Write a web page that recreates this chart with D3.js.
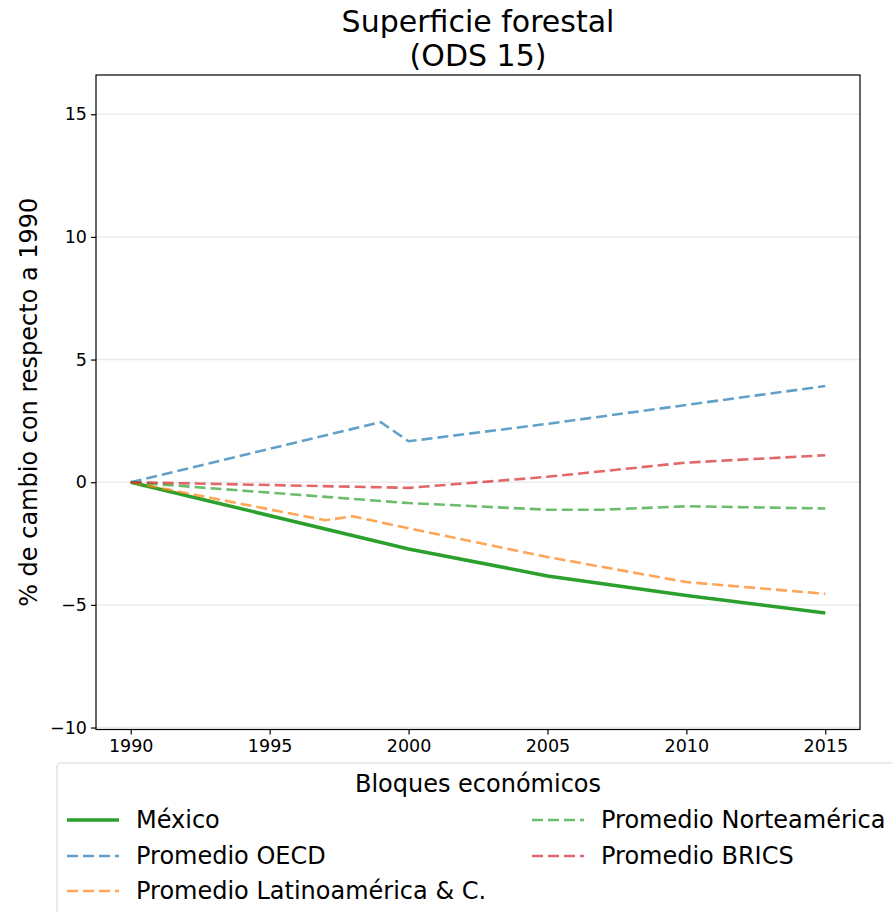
<!DOCTYPE html>
<html>
<head>
  <meta charset="utf-8">
  <title>Superficie forestal</title>
  <style>
  body { margin: 0; background: #fff; }
  svg { font-family: "DejaVu Sans", sans-serif; }
  </style>
</head>
<body>
  <svg width="892" height="912"></svg>
  <script src="https://d3js.org/d3.v7.min.js"></script>
  <script>
    var mexicoYears = [1990, 2000, 2005, 2010, 2015];
    var mexicoVals = [0, -2.72, -3.82, -4.62, -5.33];
    var oecdYears = [1990, 1999, 2000, 2005, 2010, 2015];
    var oecdVals = [0, 2.45, 1.67, 2.38, 3.15, 3.92];
    var latamYears = [1990, 1997, 1998, 2000, 2005, 2010, 2015];
    var latamVals = [0, -1.55, -1.39, -1.88, -3.05, -4.07, -4.55];
    var nteYears = [1990, 2000, 2005, 2007, 2010, 2015];
    var nteVals = [0, -0.85, -1.12, -1.12, -0.98, -1.07];
    var bricsYears = [1990, 2000, 2005, 2010, 2015];
    var bricsVals = [0, -0.23, 0.22, 0.8, 1.1];
    var xTicks = [1990, 1995, 2000, 2005, 2010, 2015];
    var yTicks = [-10, -5, 0, 5, 10, 15];

    function zip(xs, vs) { return xs.map((x, i) => ({ x: x, y: vs[i] })); }

    var series = [
      { name: "México", data: zip(mexicoYears, mexicoVals), color: "#2ca02c", width: 3.5, dash: null, opacity: 1 },
      { name: "Promedio OECD", data: zip(oecdYears, oecdVals), color: "#1f77b4", width: 2.6, dash: "11,5", opacity: 0.7 },
      { name: "Promedio Latinoamérica & C.", data: zip(latamYears, latamVals), color: "#ff7f0e", width: 2.6, dash: "11,5", opacity: 0.7 },
      { name: "Promedio Norteamérica", data: zip(nteYears, nteVals), color: "#2ca02c", width: 2.6, dash: "11,5", opacity: 0.7 },
      { name: "Promedio BRICS", data: zip(bricsYears, bricsVals), color: "#d62728", width: 2.6, dash: "11,5", opacity: 0.7 }
    ];

    var plotL = 96, plotR = 860, plotT = 75, plotB = 729.5;
    var svg = d3.select("svg");
    var xScale = d3.scaleLinear().domain([1988.75, 2016.25]).range([plotL, plotR]);
    var yScale = d3.scaleLinear().domain([-10.08, 16.6]).range([plotB, plotT]);

    // grid
    svg.append("g").selectAll("line").data(yTicks).join("line")
      .attr("x1", plotL).attr("x2", plotR)
      .attr("y1", d => yScale(d)).attr("y2", d => yScale(d))
      .attr("stroke", "#ebebeb").attr("stroke-width", 1.5);

    var line = d3.line().x(d => xScale(d.x)).y(d => yScale(d.y));
    var plot = svg.append("g");
    series.forEach(s => {
      plot.append("path")
        .attr("d", line(s.data))
        .attr("fill", "none")
        .attr("stroke", s.color)
        .attr("stroke-width", s.width)
        .attr("stroke-dasharray", s.dash)
        .attr("stroke-opacity", s.opacity);
    });

    var fmt = d => d < 0 ? "\u2212" + Math.abs(d) : String(d);
    var xAxis = svg.append("g").attr("transform", "translate(0," + plotB + ")")
      .call(d3.axisBottom(xScale).tickValues(xTicks).tickFormat(d3.format("d")).tickSize(5).tickPadding(5).tickSizeOuter(0));
    var yAxis = svg.append("g").attr("transform", "translate(" + plotL + ",0)")
      .call(d3.axisLeft(yScale).tickValues(yTicks).tickFormat(fmt).tickSize(5).tickPadding(4).tickSizeOuter(0));
    [xAxis, yAxis].forEach(a => {
      a.select(".domain").remove();
      a.selectAll("text").attr("font-size", 17.5).attr("fill", "#000").attr("font-family", "DejaVu Sans");
      a.selectAll("line").attr("stroke", "#000").attr("stroke-width", 1.2);
    });

    svg.append("rect").attr("x", plotL).attr("y", plotT)
      .attr("width", plotR - plotL).attr("height", plotB - plotT)
      .attr("fill", "none").attr("stroke", "#000").attr("stroke-width", 1.2);

    svg.append("text").attr("x", 478).attr("y", 32).attr("text-anchor", "middle")
      .attr("font-size", 30).text("Superficie forestal");
    svg.append("text").attr("x", 478).attr("y", 66).attr("text-anchor", "middle")
      .attr("font-size", 30).text("(ODS 15)");

    svg.append("text")
      .attr("transform", "translate(37," + ((plotT + plotB) / 2) + ") rotate(-90)")
      .attr("text-anchor", "middle").attr("font-size", 24)
      .text("% de cambio con respecto a 1990");

    // legend
    var lg = svg.append("g");
    lg.append("rect").attr("x", 57).attr("y", 763).attr("width", 842).attr("height", 170)
      .attr("rx", 4).attr("fill", "#fff").attr("stroke", "#d9d9d9").attr("stroke-width", 1.2);
    lg.append("text").attr("x", 478).attr("y", 792).attr("text-anchor", "middle")
      .attr("font-size", 24).text("Bloques económicos");
    var pos = [[67, 820], [67, 856], [67, 891], [532, 820], [532, 856]];
    series.forEach((s, i) => {
      var p = pos[i];
      lg.append("line").attr("x1", p[0]).attr("x2", p[0] + 52)
        .attr("y1", p[1]).attr("y2", p[1])
        .attr("stroke", s.color).attr("stroke-width", s.width)
        .attr("stroke-dasharray", s.dash).attr("stroke-opacity", s.opacity);
      lg.append("text").attr("x", p[0] + 69).attr("y", p[1] + 8)
        .attr("font-size", 24).text(s.name);
    });
  </script>
</body>
</html>
